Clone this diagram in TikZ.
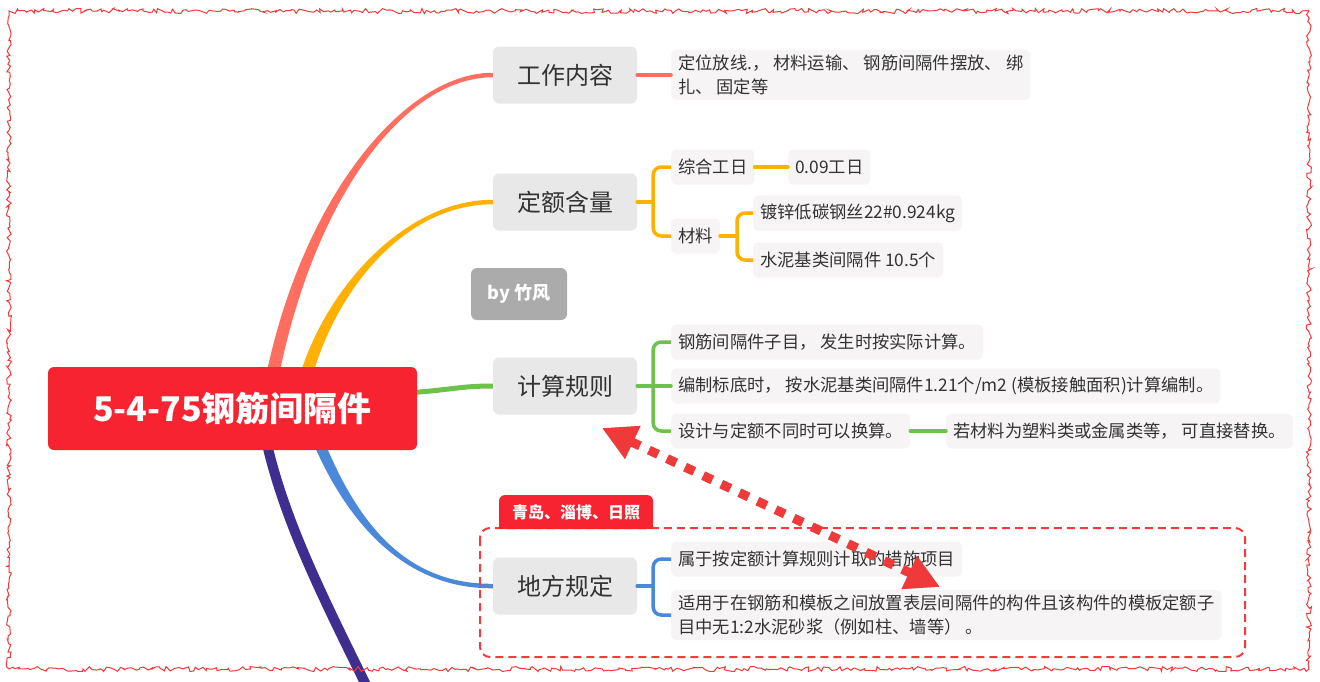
\documentclass[tikz,border=0pt]{standalone}
\usepackage{fontspec}
\setmainfont{Noto Sans CJK SC}
\usetikzlibrary{calc,arrows.meta,decorations.pathmorphing}
\definecolor{rootred}{HTML}{F72331}
\definecolor{salmon}{HTML}{FF6E5F}
\definecolor{orng}{HTML}{FFB000}
\definecolor{grn}{HTML}{6CC24A}
\definecolor{blu}{HTML}{4A88DA}
\definecolor{purp}{HTML}{3F2D8F}
\definecolor{nodegray}{HTML}{E8E8E8}
\definecolor{leafbg}{HTML}{F6F4F4}
\definecolor{txt}{HTML}{333333}
\definecolor{dashred}{HTML}{F23B3F}
\definecolor{bygray}{HTML}{ABABAB}
\definecolor{bordred}{HTML}{F03A3A}
\pgfdeclarelayer{bg}
\pgfsetlayers{bg,main}
\newcommand{\taper}[7]{%
 \fill[#1] ($(#2)+({-0.5*(#6)},0)$) .. controls ($(#3)+({-0.5*(#6)},0)$) and ($(#4)+(0,{-0.5*(#7)})$) .. ($(#5)+(0,{-0.5*(#7)})$)
   -- ($(#5)+(0,{0.5*(#7)})$) .. controls ($(#4)+(0,{0.5*(#7)})$) and ($(#3)+({0.5*(#6)},0)$) .. ($(#2)+({0.5*(#6)},0)$) -- cycle;}
\begin{document}
\begin{tikzpicture}[x=1pt,y=-1pt,
  rootnode/.style={fill=rootred, rounded corners=6pt, minimum width=369pt, minimum height=83pt, text=white, font=\fontsize{34}{40}\selectfont\bfseries, inner sep=0pt},
  topic/.style={fill=nodegray, rounded corners=6pt, minimum width=144pt, minimum height=57pt, text=txt, font=\fontsize{24}{28}\selectfont, inner sep=0pt},
  leaf/.style={fill=leafbg, rounded corners=5pt, anchor=west, inner xsep=7pt, inner ysep=5pt, minimum height=35pt, text=txt, font=\fontsize{17.3}{24}\selectfont, align=left},
  bynode/.style={fill=bygray, rounded corners=6pt, minimum width=96pt, minimum height=52pt, text=white, font=\fontsize{18}{22}\selectfont\bfseries, inner sep=0pt},
  tagtext/.style={text=white, font=\fontsize{16}{18}\selectfont\bfseries, inner sep=0pt},
  conn/.style={line width=3.5pt, line cap=round},
  bracket/.style={line width=3.5pt, rounded corners=8pt},
  dotarrow/.style={line width=9pt, dash pattern=on 10pt off 10pt, {Triangle[length=34pt,width=34pt]}-{Triangle[length=34pt,width=34pt]}}
]
\useasboundingbox (0,0) rectangle (1320,681);
\begin{pgfonlayer}{bg}
\fill[white] (0,0) rectangle (1320,681);
\end{pgfonlayer}
\pgfmathsetseed{11}
\draw[bordred, line width=1pt, decorate, decoration={random steps, segment length=3pt, amplitude=2.5pt}] (9,11) rectangle (1309,669);

% main nodes
\node[rootnode] (root) at (232.5,408.5) {5-4-75钢筋间隔件};
\node[topic] (wk) at (565,75) {工作内容};
\node[topic] (de) at (565,202) {定额含量};
\node[topic] (js) at (565,386) {计算规则};
\node[topic] (df) at (565,586) {地方规定};
\node[bynode] (by) at (519,294) {by 竹风};

% leaves
\node[leaf] (wk1) at (671,75) {定位放线.， 材料运输、 钢筋间隔件摆放、 绑\\扎、 固定等};
\node[leaf] (de1) at (671,167) {综合工日};
\node[leaf] (de11) at (788,167) {0.09工日};
\node[leaf] (de2) at (671,236) {材料};
\node[leaf] (de21) at (753,213) {镀锌低碳钢丝22\#0.924kg};
\node[leaf] (de22) at (753,260) {水泥基类间隔件 10.5个};
\node[leaf] (js1) at (671,342) {钢筋间隔件子目， 发生时按实际计算。};
\node[leaf] (js2) at (671,386) {编制标底时， 按水泥基类间隔件1.21个/m2 (模板接触面积)计算编制。};
\node[leaf] (js3) at (671,431) {设计与定额不同时可以换算。};
\node[leaf] (js31) at (946,431) {若材料为塑料类或金属类等， 可直接替换。};
\node[leaf] (df1) at (671,559) {属于按定额计算规则计取的措施项目};
\node[leaf] (df2) at (671,615) {适用于在钢筋和模板之间放置表层间隔件的构件且该构件的模板定额子\\目中无1:2水泥砂浆（例如柱、墙等） 。};

% tag and dashed frame
\draw[dashred, line width=2pt, dash pattern=on 8pt off 5pt, rounded corners=10pt] (480,528) rectangle (1245,657);
\fill[rootred, rounded corners=6pt] (499,495) rectangle (653,529);
\fill[rootred] (499,512) rectangle (653,529);
\node[tagtext] (tag) at (576,512) {青岛、淄博、日照};

% branch curves (behind)
\coordinate (s1) at (268,400);
\coordinate (s2) at (300,400);
\coordinate (s4) at (310,420);
\coordinate (s5) at (262,420);
\begin{pgfonlayer}{bg}
\taper{salmon}{s1}{300,210}{400,75}{wk.west}{13}{4.5}
\taper{orng}{s2}{320,300}{400,202}{de.west}{13}{4.5}
\taper{blu}{s4}{345,515}{400,587}{df.west}{12}{-4.5}
\draw[grn, line width=5pt] ($(root.east)+(-5,-16)$) .. controls (450,390) and (460,386) .. (js.west);
\draw[purp, line width=10pt] (s5) .. controls (280,520) and (330,610) .. (388,730);
\end{pgfonlayer}

% connectors
\draw[salmon, conn] (wk.east) -- (wk1.west);
\draw[orng, conn] (de.east) -- ++(16,0) coordinate (bde);
\draw[orng, bracket] (bde) |- (de1.west);
\draw[orng, bracket] (bde) |- (de2.west);
\draw[orng, conn] (de1.east) -- (de11.west);
\draw[orng, conn] (de2.east) -- ++(17,0) coordinate (bm);
\draw[orng, bracket] (bm) |- (de21.west);
\draw[orng, bracket] (bm) |- (de22.west);
\draw[grn, conn] (js.east) -- ++(16,0) coordinate (bjs);
\draw[grn, bracket] (bjs) |- (js1.west);
\draw[grn, conn] (bjs) -- (js2.west);
\draw[grn, bracket] (bjs) |- (js3.west);
\draw[grn, conn] (js3.east) -- (js31.west);
\draw[blu, conn] (df.east) -- ++(16,0) coordinate (bdf);
\draw[blu, bracket] (bdf) |- (df1.west);
\draw[blu, bracket] (bdf) |- (df2.west);

% dotted double arrow with shadow
\coordinate (a1) at (602,428);
\coordinate (a2) at (940,587);
\draw[black!60, opacity=0.5, dotarrow, shift={(3,4)}] (a1) -- (a2);
\draw[bordred, dotarrow] (a1) -- (a2);
\end{tikzpicture}
\end{document}
